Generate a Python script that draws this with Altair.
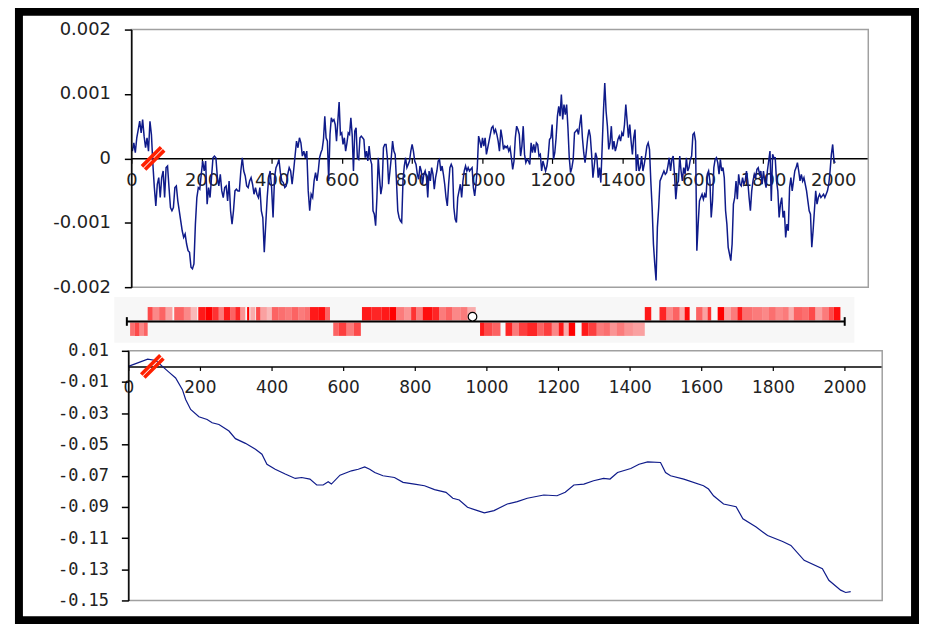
import numpy as np
import pandas as pd
import altair as alt

# ---------------- data ----------------
X_TICKS = list(range(0, 2001, 200))
TOP_Y_TICKS = [0.002, 0.001, 0, -0.001, -0.002]
BOT_Y_TICKS = [0.01, -0.01, -0.03, -0.05, -0.07, -0.09, -0.11, -0.13, -0.15]

# windowed skew, values in units of 1e-4, four consecutive stretches of the sequence
SKEW_SEG1 = [1.13, 2.42, 0.88, 3.2, 4.48, 5.77, 3.97, 6.03, 3.45, 1.65, 3.2, 1.13, 5.77, 3.71, -0.93,
             -4.54, -7.37, -4.02, -2.99, -6.08, -2.99, -1.96, -6.08, -1.44, -1.19, -4.54, -7.63, -8.14,
             -7.63, -4.54, -4.28, -6.6, -8.14, -9.69, -11.24, -12.27, -11.75, -13.3, -14.33, -14.59,
             -16.91, -17.16, -16.39, -10.21, -6.08, -4.54, -4.79, -2.47, -0.41, -1.96, -0.41, -7.11,
             -4.54, -6.08, -2.99, 0.1, 0.36, 0.1, -2.99, -4.28, -2.47, -5.05, -6.08, -4.54, -4.28, -6.6,
             -3.51, -8.14, -10.21, -8.14, -5.05, -4.79, -5.05, -5.05, -1.96, 0.1, -1.96, -2.73, -4.28,
             -4.54, -3.51, -2.99, -4.02, -5.57, -4.54, -5.57, -6.08, -4.54, -8.14, -9.18, -14.59, -10.21,
             -6.08, -2.99, -1.96, -4.54, -9.18, -2.99, -1.44, -0.93, -0.15, -2.22, -3.51, -3.76, -4.54,
             -4.28, -2.47, -1.44, -1.96, -4.02, -1.96, 0.36, 2.68, 1.65, 3.2, 2.42, 0.36, 1.13, 0.1, 1.13,
             -5.05, -8.14, -5.57, -6.08, -3.51, -2.22]
SKEW_SEG2 = [-3.51, -1.96, 0.1, 0.88, 1.39, 2.94, 6.55, 3.2, 2.68, -3.51, 3.71, 6.29, 5.77, 6.03, 5.26,
             2.68, 5.77, 8.76, 3.71, 3.97, 2.16, 3.2, 1.13, 2.42, 3.97, 3.71, 6.29, 3.71, -1.96, 4.23,
             4.74, 0.1, -0.15, 3.2, 3.45, 3.2, 2.94, 0.1, 1.13, -0.41, 1.91, -0.15, -0.93, -8.14, -8.66,
             -10.46, -6.08, 0.1, -2.99, -5.57, -4.28, 1.65, 2.16, 2.16, 0.1, -4.02, -1.96, 0.1, 2.68,
             1.13, 0.62, -3.51, -8.14, -9.18, -9.69, -9.95, -3.51, -1.19, 0.1, -1.44, -0.93, -0.41, 1.13,
             2.16, 1.13, -0.41, -0.93, -2.47, -3.25, -1.19, -1.96, -4.02, -2.47, -1.96, -2.99, -6.08,
             -1.96, -3.51, -1.44, -2.47, -4.79, -2.99, -1.96, -0.41, -0.15, -1.96, -1.19, -2.47, -4.02,
             -6.08, -7.37, -4.02, -1.44, -0.93, -1.44, -7.63, -9.43, -9.95, -6.08, -5.05, -4.02, -6.08,
             -3.51, -1.96, -1.19, -1.96, -1.44, -1.96, -1.7, -1.44, -4.54, -5.82, -4.02, -1.44, 3.45,
             2.68, 1.65, 3.2, 1.91, 3.2, 0.62, 1.65, 2.68, 3.71, 4.74, 5.0, 3.97, 4.48, 3.71, 2.68, 1.13]
SKEW_SEG3 = [4.48, 3.2, 1.39, 1.91, 1.65, 1.91, 1.13, 1.65, 0.1, -1.7, -0.41, 3.2, 5.0, 4.48, 3.71, 0.36,
             1.91, 5.0, 0.62, -0.67, -0.15, -0.41, -0.93, 2.42, 0.88, 2.16, 0.88, 2.42, 2.16, 0.36, 0.62,
             -1.96, -0.41, -1.19, -1.96, -1.19, 0.36, 2.94, 3.2, 5.26, -0.15, 0.88, 3.2, 6.55, 8.09, 6.55,
             9.9, 6.03, 8.35, 6.8, 8.35, 4.74, 0.1, -2.22, -1.44, -0.15, 3.97, 4.23, 4.48, 3.71, 5.26,
             6.8, 3.2, 0.88, -0.67, 1.13, 3.2, 4.48, 3.45, 0.62, -2.99, -1.19, 0.88, 0.1, -2.99, -1.44,
             -3.76, 1.65, 7.32, 11.7, 7.32, 5.0, 1.39, 2.42, 5.0, 1.39, 2.68, 1.13, 1.91, 2.94, 3.45,
             2.68, 3.97, 3.45, 5.26, 8.35, 5.77, 3.2, 5.26, 2.68, 0.62, 3.2, 4.48, -1.96, 0.62, -1.96,
             -1.44, 0.36, -1.96, -0.93, 0.36, 1.91, 2.42, 1.39, -3.51, -7.63, -13.3, -16.39, -18.97,
             -10.72, -7.63, -3.51, -2.99, -2.47, -1.96, -2.47, -2.22, -1.19, 0.1, -1.96, -0.15, 0.36,
             -2.47, -6.34, -4.02, -3.51, 0.36, -1.96, -3.51, -1.44]
SKEW_SEG4 = [-2.47, 0.1, -1.96, -1.44, -0.15, 0.36, 3.71, 3.97, 2.68, -14.33, -10.21, -6.6, -6.08, -5.57,
             -6.34, -5.57, -6.08, -2.47, -1.96, -3.51, -9.18, -6.6, -1.44, -0.15, 0.1, -0.67, -2.47,
             -0.15, -1.96, -1.44, -2.99, -8.14, -10.21, -13.81, -14.85, -15.88, -13.3, -7.11, -6.08,
             -3.51, -6.34, -2.47, -4.02, -4.28, -2.99, -4.02, -3.51, -1.96, -3.51, -6.08, -8.14, -5.05,
             -3.51, -2.47, -2.99, -1.7, -1.44, -2.47, -1.96, -4.02, -1.96, -3.51, -4.54, -1.96, -0.41,
             1.13, -6.6, 0.62, 0.1, 0.1, -3.51, -5.05, -9.18, -7.11, -6.08, -9.18, -8.14, -12.27, -10.21,
             -11.24, -4.54, -2.99, -5.05, -3.51, -1.96, -1.44, -0.67, -1.96, -3.51, -2.47, -3.51, -2.99,
             -4.02, -5.05, -6.6, -8.14, -8.66, -13.81, -11.24, -8.14, -5.05, -7.11, -6.08, -5.57, -6.08,
             -5.82, -5.57, -6.08, -5.57, -5.05, -4.02, -1.96, 0.62, 2.16, -0.41, -0.67]
SEG_SPANS = [(3, 525), (529, 1049), (1053, 1574), (1578, 2006)]

# cumulative skew
CUM_X = [0, 30, 54, 77, 95, 114, 132, 151, 160, 174, 197, 220, 234, 253, 281, 299, 327, 355, 373, 387,
         410, 438, 466, 484, 507, 526, 544, 558, 567, 591, 623, 642, 660, 674, 688, 711, 743, 767, 799,
         827, 855, 887, 906, 924, 947, 975, 994, 1021, 1058, 1086, 1114, 1160, 1197, 1220, 1244, 1272,
         1299, 1327, 1345, 1366, 1403, 1426, 1450, 1486, 1500, 1514, 1551, 1606, 1620, 1634, 1662, 1697,
         1716, 1753, 1785, 1827, 1850, 1887, 1938, 1956, 1989, 2003, 2017]
CUM_Y = [0, 0.0026, 0.0047, 0.0038, 0, -0.0038, -0.0074, -0.0149, -0.0212, -0.0276, -0.0323, -0.034,
         -0.0361, -0.0372, -0.0414, -0.0463, -0.0493, -0.0531, -0.0563, -0.0627, -0.0659, -0.069,
         -0.0718, -0.0712, -0.0722, -0.076, -0.076, -0.0739, -0.0754, -0.0697, -0.0669, -0.0659,
         -0.0644, -0.0659, -0.068, -0.0701, -0.0712, -0.0743, -0.0754, -0.0765, -0.079, -0.0807,
         -0.0845, -0.0856, -0.0903, -0.0924, -0.0939, -0.0924, -0.0882, -0.0867, -0.0845, -0.0824,
         -0.0829, -0.0807, -0.076, -0.0754, -0.0733, -0.0718, -0.0722, -0.068, -0.0654, -0.0627,
         -0.0612, -0.0616, -0.068, -0.0701, -0.0722, -0.0765, -0.0786, -0.0829, -0.0882, -0.0899,
         -0.0977, -0.103, -0.1084, -0.1122, -0.1147, -0.1243, -0.1296, -0.1371, -0.1434, -0.1449,
         -0.1444]

# genes on the map: (start, end, shade)
GENES_FWD = [(58, 72, .7), (72, 90, .45), (90, 108, .6), (108, 127, .35), (132, 159, .6), (159, 178, .45),
             (178, 196, .25), (199, 219, .9), (219, 238, 1.0), (238, 256, .8), (256, 270, .5),
             (270, 288, .9), (288, 302, .6), (302, 316, .85), (316, 330, .4), (335, 341, 1.0),
             (344, 358, .3), (360, 372, .7), (372, 390, .35), (390, 404, .25), (404, 422, .6),
             (422, 441, .55), (441, 459, .5), (459, 478, .6), (478, 496, .5), (496, 510, .55),
             (510, 533, .9), (533, 552, .95), (552, 566, .6),
             (655, 681, .9), (681, 709, .85), (709, 732, .9), (732, 750, 1.0), (750, 773, .5),
             (773, 792, .4), (792, 806, .8), (806, 824, .5), (824, 852, .95), (852, 870, .85),
             (870, 889, .5), (889, 907, .6), (907, 930, .45), (930, 949, .5), (949, 972, .3),
             (1443, 1461, .9), (1484, 1503, .85), (1503, 1521, .45), (1521, 1540, .6), (1540, 1554, .3),
             (1554, 1568, .95), (1586, 1604, .6), (1604, 1618, .35), (1618, 1628, .8), (1646, 1664, 1.0),
             (1664, 1683, .35), (1683, 1701, .5), (1701, 1715, .9), (1715, 1743, .55), (1743, 1771, .5),
             (1771, 1789, .45), (1789, 1808, .55), (1808, 1826, .45), (1826, 1844, .5), (1844, 1858, .3),
             (1858, 1881, .6), (1881, 1900, .55), (1900, 1918, .7), (1918, 1937, .35), (1937, 1955, .5),
             (1955, 1969, .7), (1969, 1988, .95)]
GENES_REV = [(9, 22, .55), (22, 35, .7), (35, 47, .45), (47, 58, .6),
             (575, 590, .6), (590, 612, .75), (612, 632, .5), (632, 652, .7),
             (984, 995, .9), (995, 1018, .7), (1018, 1041, .6), (1055, 1074, .85), (1074, 1092, .5),
             (1092, 1115, .75), (1115, 1143, .85), (1143, 1161, .6), (1161, 1184, .75), (1184, 1203, .45),
             (1203, 1217, .9), (1217, 1231, .3), (1231, 1249, 1.0), (1267, 1286, .9), (1286, 1309, .75),
             (1309, 1327, .5), (1327, 1346, .55), (1346, 1364, .4), (1364, 1387, .5), (1387, 1410, .4),
             (1410, 1443, .35)]
MAP_LENGTH = 2000
ORIGIN_POS = 963
BREAK_TOP_POS = 62
BREAK_BOT_POS = 67

# ---------------- tables ----------------
segs = [SKEW_SEG1, SKEW_SEG2, SKEW_SEG3, SKEW_SEG4]
top_df = pd.DataFrame({
    "pos": np.concatenate([np.linspace(a, b, len(s)) for s, (a, b) in zip(segs, SEG_SPANS)]),
    "v": np.concatenate([np.array(s) for s in segs]) * 1e-4,
})
cum_df = pd.DataFrame({"pos": CUM_X, "v": CUM_Y})
genes_df = pd.DataFrame(
    [{"x0": a, "x1": b, "y0": 0.07, "y1": 1.0, "shade": c} for a, b, c in GENES_FWD]
    + [{"x0": a, "x1": b, "y0": -0.07, "y1": -1.0, "shade": c} for a, b, c in GENES_REV]
)

W, H = 901, 612
FONT = "DejaVu Sans"
MONO = "DejaVu Sans Mono"
LBL = "#222222"
NAVY = "#0f1b8a"


def sc(domain, rng):
    return alt.Scale(domain=domain, range=rng, nice=False, zero=False)


# panel geometry (scale ranges in plot-area pixels)
TOP_X = ([0, 2100], [113, 854])
TOP_Y = ([-0.002, 0.002], [277, 18])
TOP_ZERO = 147.5
STRIP_X = ([0, 2000], [108.5, 830.3])
STRIP_Y = ([-1, 1], [326, 297])
BOT_X = ([0, 2105], [110, 868])
BOT_Y = ([-0.15, 0.01], [592, 341])
BOT_ZERO = 341 + 251 * (0.01 / 0.16)


def enc_xy(geom_x, geom_y, xf="x0", yf="y0", x2=None, y2=None):
    e = dict(x=alt.X(f"{xf}:Q", scale=sc(*geom_x), axis=None),
             y=alt.Y(f"{yf}:Q", scale=sc(*geom_y), axis=None))
    if x2:
        e["x2"] = alt.X2(x2)
    if y2:
        e["y2"] = alt.Y2(y2)
    return e


BREAK_SHAPE = "M-1,0.72L0.72,-1M-0.72,1L1,-0.72"

# ---------------- top panel ----------------
top_frame = alt.Chart(pd.DataFrame({"x0": [0], "x1": [2100], "y0": [-0.002], "y1": [0.002]})).mark_rect(
    fillOpacity=0, stroke="#a0a0a0", strokeWidth=1.5).encode(**enc_xy(TOP_X, TOP_Y, x2="x1", y2="y1"))

top_line = alt.Chart(top_df).mark_line(color=NAVY, strokeWidth=1.5).encode(
    x=alt.X("pos:Q", scale=sc(*TOP_X), axis=alt.Axis(
        values=X_TICKS, format="d", orient="bottom", offset=TOP_ZERO - H, title=None, grid=False,
        domainColor="black", domainWidth=1.5, tickColor="black", tickSize=5, tickWidth=1.2,
        labelFont=FONT, labelFontSize=18, labelColor=LBL, labelPadding=8,
        labelFlush=False, labelOverlap=False)),
    y=alt.Y("v:Q", scale=sc(*TOP_Y), axis=alt.Axis(
        values=TOP_Y_TICKS, orient="left", offset=-113, title=None, grid=False,
        domainColor="black", domainWidth=1.5, tickColor="black", tickSize=7, tickWidth=1.5,
        labelExpr="'' + datum.value", labelFont=FONT, labelFontSize=18, labelColor=LBL,
        labelPadding=14, zindex=1)),
)

top_break = alt.Chart(pd.DataFrame({"x0": [BREAK_TOP_POS], "y0": [0.0]})).mark_point(
    shape=BREAK_SHAPE, filled=False, stroke="#ff2000", strokeWidth=3.6, size=500, opacity=1).encode(
    **enc_xy(TOP_X, TOP_Y))

# ---------------- gene map strip ----------------
strip_bg = alt.Chart(pd.DataFrame({"x0": [-35], "x1": [2027], "y0": [-1.48], "y1": [1.69]})).mark_rect(
    fill="#f7f7f7").encode(**enc_xy(STRIP_X, STRIP_Y, x2="x1", y2="y1"))
strip_genes = alt.Chart(genes_df).mark_rect(fill="#ff0000").encode(
    opacity=alt.Opacity("shade:Q", scale=None, legend=None),
    **enc_xy(STRIP_X, STRIP_Y, x2="x1", y2="y1"))
strip_line = alt.Chart(pd.DataFrame({"x0": [0], "x1": [MAP_LENGTH], "y0": [0.0]})).mark_rule(
    color="black", strokeWidth=2).encode(**enc_xy(STRIP_X, STRIP_Y, x2="x1"))
strip_ends = alt.Chart(pd.DataFrame({"x0": [0, MAP_LENGTH], "y0": [-0.3, -0.3], "y1": [0.3, 0.3]})).mark_rule(
    color="black", strokeWidth=2).encode(**enc_xy(STRIP_X, STRIP_Y, y2="y1"))
strip_origin = alt.Chart(pd.DataFrame({"x0": [ORIGIN_POS], "y0": [0.33]})).mark_point(
    shape="circle", filled=True, fill="white", stroke="black", strokeWidth=1.2, size=75, opacity=1).encode(
    **enc_xy(STRIP_X, STRIP_Y))

# ---------------- bottom panel ----------------
bot_frame = alt.Chart(pd.DataFrame({"x0": [0], "x1": [2105], "y0": [-0.15], "y1": [0.01]})).mark_rect(
    fillOpacity=0, stroke="#a0a0a0", strokeWidth=1.5).encode(**enc_xy(BOT_X, BOT_Y, x2="x1", y2="y1"))

bot_line = alt.Chart(cum_df).mark_line(color=NAVY, strokeWidth=1.2).encode(
    x=alt.X("pos:Q", scale=sc(*BOT_X), axis=alt.Axis(
        values=X_TICKS, format="d", orient="bottom", offset=BOT_ZERO - H, title=None, grid=False,
        domainColor="black", domainWidth=1.5, tickColor="black", tickSize=4, tickWidth=1.2,
        labelFont=FONT, labelFontSize=17, labelColor=LBL, labelPadding=9,
        labelFlush=False, labelOverlap=False)),
    y=alt.Y("v:Q", scale=sc(*BOT_Y), axis=alt.Axis(
        values=BOT_Y_TICKS, orient="left", offset=-110, title=None, grid=False,
        domainColor="black", domainWidth=1.5, tickColor="black", tickSize=7, tickWidth=1.5,
        labelExpr="'' + datum.value", labelFont=MONO, labelFontSize=17, labelColor=LBL,
        labelPadding=13, zindex=1)),
)

bot_break = alt.Chart(pd.DataFrame({"x0": [BREAK_BOT_POS], "y0": [0.0]})).mark_point(
    shape=BREAK_SHAPE, filled=False, stroke="#ff2000", strokeWidth=3.6, size=500, opacity=1).encode(
    **enc_xy(BOT_X, BOT_Y))

chart = alt.layer(
    top_frame, top_line, top_break,
    strip_bg, strip_genes, strip_line, strip_ends, strip_origin,
    bot_frame, bot_line, bot_break,
).resolve_scale(x="independent", y="independent").resolve_axis(
    x="independent", y="independent").properties(
    width=W, height=H,
    padding={"left": 11, "top": 2, "right": 5, "bottom": 4},
    autosize=alt.AutoSizeParams(type="none"),
    background="white",
).configure_view(stroke="black", strokeWidth=8, fill="white")

chart.save("out.html", embed_options={"renderer": "svg", "actions": False})
